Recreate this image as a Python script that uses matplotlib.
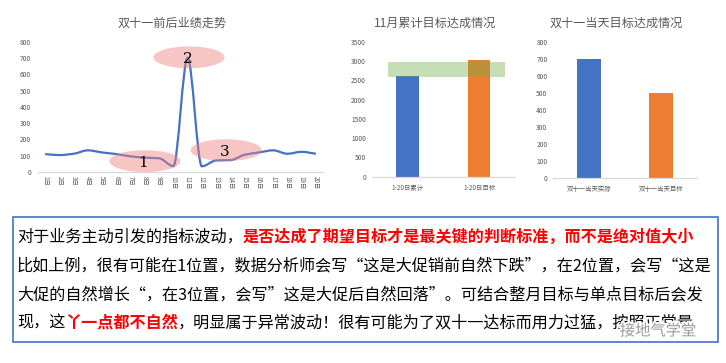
import numpy as np
import matplotlib
matplotlib.use('Agg')
import matplotlib.pyplot as plt
from matplotlib.path import Path
from matplotlib.patches import PathPatch, Ellipse, Rectangle
import matplotlib.patheffects as pe

plt.rcParams['font.family'] = ['Noto Sans CJK SC', 'DejaVu Sans']

# data
days = [str(i) + '日' for i in range(1, 21)]
sales = [110, 104, 112, 133, 120, 110, 96, 88, 84, 36, 702, 35, 71, 73, 106, 120, 133, 112, 124, 112]

month_cats = ['1-20日累计', '1-20日目标']
month_vals = [2600, 3030]
band_low, band_high = 2585, 2980

day_cats = ['双十一当天实际', '双十一当天目标']
day_vals = [700, 500]

# ellipse marks: (day index, value, label)
marks = [(7.0, 67, '1'), (10.1, 704, '2'), (12.7, 134, '3')]
mark_text = [(6.85, 55), (10.0, 696), (12.6, 122)]

W, H = 726, 363
fig = plt.figure(figsize=(W / 100, H / 100), dpi=100)
fig.patch.set_facecolor('white')

GRAY = '#595959'
BLUE = '#4472c4'
ORANGE = '#ed7d31'


def px_axes(l, t, r, b):
    return fig.add_axes([l / W, 1 - b / H, (r - l) / W, (b - t) / H])


def style(ax):
    for s in ['top', 'right', 'left']:
        ax.spines[s].set_visible(False)
    ax.spines['bottom'].set_color('#d9d9d9')
    ax.spines['bottom'].set_linewidth(0.9)
    ax.tick_params(length=0, colors=GRAY, labelsize=4.8)


# ---- line chart (smoothed, monotone tangents so it doesn't overshoot) ----
ax1 = px_axes(38, 41.7, 323, 172)
style(ax1)
x = np.arange(len(sales)).astype(float)
y = np.array(sales, dtype=float)
n = len(y)
d = np.diff(y)
m = np.zeros(n)
m[0], m[-1] = d[0], d[-1]
for i in range(1, n - 1):
    if d[i - 1] * d[i] > 0:
        m[i] = 2 / (1 / d[i - 1] + 1 / d[i])
verts = [(x[0], y[0])]
codes = [Path.MOVETO]
for i in range(n - 1):
    verts += [(x[i] + 1 / 3, y[i] + m[i] / 3), (x[i + 1] - 1 / 3, y[i + 1] - m[i + 1] / 3), (x[i + 1], y[i + 1])]
    codes += [Path.CURVE4] * 3
ax1.add_patch(PathPatch(Path(verts, codes), fill=False, edgecolor=BLUE, lw=1.6, zorder=2))
for (cx, cy, lab) in marks:
    ax1.add_patch(Ellipse((cx, cy), 5.0, 134, facecolor=(240/255, 128/255, 128/255, 0.45),
                          edgecolor='none', zorder=3))
for (tx, ty), (_, _, lab) in zip(mark_text, marks):
    ax1.text(tx, ty, lab, fontsize=11, ha='center', va='center', color='black', zorder=4,
             family=['DejaVu Serif'])
ax1.set_xlim(-0.5, 19.5)
ax1.set_ylim(0, 800)
ax1.set_yticks(range(0, 801, 100))
ax1.set_xticks(x)
ax1.set_xticklabels(days, rotation=-90, fontsize=4.5)
ax1.tick_params(axis='y', pad=5)
ax1.tick_params(axis='x', pad=3)
fig.text(172 / W, 1 - 23 / H, '双十一前后业绩走势', ha='center', va='center', fontsize=8.7, color=GRAY)

# ---- month bar chart ----
ax2 = px_axes(371.7, 41.7, 515, 176.7)
style(ax2)
ax2.bar(range(2), month_vals, width=0.31, color=[BLUE, ORANGE], zorder=2)
ax2.fill_between([-0.27, 1.36], band_low, band_high, color='#70ad47', alpha=0.4, lw=0, zorder=3)
ax2.set_xlim(-0.5, 1.5)
ax2.set_ylim(0, 3500)
ax2.set_yticks(range(0, 3501, 500))
ax2.set_xticks(range(2))
ax2.set_xticklabels(month_cats, fontsize=4.6)
ax2.tick_params(axis='y', pad=4)
ax2.tick_params(axis='x', pad=5)
fig.text(435 / W, 1 - 23 / H, '11月累计目标达成情况', ha='center', va='center', fontsize=8.7, color=GRAY)

# ---- day bar chart ----
ax3 = px_axes(553, 41.7, 697, 177.7)
style(ax3)
ax3.bar(range(2), day_vals, width=0.32, color=[BLUE, ORANGE], zorder=2)
ax3.set_xlim(-0.5, 1.5)
ax3.set_ylim(0, 800)
ax3.set_yticks(range(0, 801, 100))
ax3.set_xticks(range(2))
ax3.set_xticklabels(day_cats, fontsize=4.6)
ax3.tick_params(axis='y', pad=4)
ax3.tick_params(axis='x', pad=5)
fig.text(616 / W, 1 - 23 / H, '双十一当天目标达成情况', ha='center', va='center', fontsize=8.7, color=GRAY)

# ---- text box ----
fig.patches.append(Rectangle((13.3 / W, 1 - 341.7 / H), (718 - 13.3) / W, (341.7 - 217.3) / H,
                             transform=fig.transFigure, fill=False, edgecolor=BLUE, lw=1.2))

lines = [
    [('对于业务主动引发的指标波动，', 'black', 'normal'),
     ('是否达成了期望目标才是最关键的判断标准，而不是绝对值大小', 'red', 'bold')],
    [('比如上例，很有可能在1位置，数据分析师会写“这是大促销前自然下跌”，在2位置，会写“这是', 'black', 'normal')],
    [('大促的自然增长“，在3位置，会写”这是大促后自然回落”。可结合整月目标与单点目标后会发', 'black', 'normal')],
    [('现，这', 'black', 'normal'), ('丫一点都不自然', 'red', 'bold'),
     ('，明显属于异常波动！很有可能为了双十一达标而用力过猛，按照正常量', 'black', 'normal')],
]
line_y = [236.7, 266, 295, 322.7]
renderer = fig.canvas.get_renderer()
for segs, yy in zip(lines, line_y):
    xpos = 17.0
    for s, c, w in segs:
        t = fig.text(xpos / W, 1 - yy / H, s, color=c, fontweight=w, fontsize=11.6,
                     ha='left', va='center')
        bb = t.get_window_extent(renderer)
        xpos += bb.width

# watermark sits over the end of the last line, as in the source image
fig.text(658 / W, 1 - 331 / H, '接地气学堂', fontsize=11, color='#9a9a9a', ha='center', va='center',
         path_effects=[pe.withStroke(linewidth=2.5, foreground='white')])

fig.savefig('out.png', dpi=100)
